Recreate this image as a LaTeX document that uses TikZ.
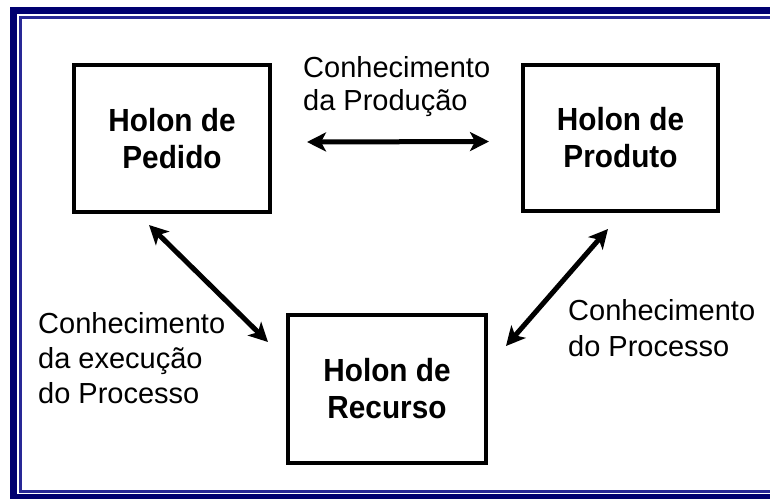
\documentclass[tikz,border=0pt]{standalone}
\usepackage{fontspec}
\setmainfont{Liberation Sans}
\newfontfamily\holonfont{Liberation Sans}[FakeStretch=0.93]
\usetikzlibrary{arrows.meta}
\definecolor{navyframe}{RGB}{0,0,112}
\definecolor{navythin}{RGB}{40,40,150}
\begin{document}
\begin{tikzpicture}[x=1pt,y=-1pt,
  holon/.style={draw=black, line width=4pt, inner sep=0pt, align=center,
    font=\holonfont\bfseries\fontsize{32}{37}\selectfont},
  lbl/.style={inner sep=0pt, anchor=north west, align=left},
  biarrow/.style={line width=5pt,
    {Stealth[length=19pt,width=19pt,inset=5pt]}-{Stealth[length=19pt,width=19pt,inset=5pt]}}]
\useasboundingbox (0,0) rectangle (770,498);
\clip (0,0) rectangle (770,498);
% frame
\draw[navyframe, line width=7pt] (13.5,10) rectangle (790,497.5);
\draw[navythin, line width=3pt] (20.5,17.5) rectangle (780,491.5);
% boxes
\node[holon, minimum width=196pt, minimum height=147pt] (pedido) at (172,138.5) {Holon de\\Pedido};
\node[holon, minimum width=195pt, minimum height=146pt] (produto) at (620.5,138) {Holon de\\Produto};
\node[holon, minimum width=198pt, minimum height=148pt] (recurso) at (387,389) {Holon de\\Recurso};
% labels
\node[lbl, font=\fontsize{29}{33}\selectfont] (lprod) at (303,56) {Conhecimento\\da Produção};
\node[lbl, font=\fontsize{29}{35}\selectfont] (lexec) at (38,312) {Conhecimento\\da execução\\do Processo};
\node[lbl, font=\fontsize{29}{36.5}\selectfont] (lproc) at (568,299) {Conhecimento\\do Processo};
% connectors
\draw[biarrow] ([xshift=35pt,yshift=-3.5pt]pedido.east) -- ([xshift=-32pt,yshift=-3.5pt]produto.west);
\draw[biarrow] ([xshift=-23pt,yshift=-11pt]pedido.south) -- ([xshift=-18pt,yshift=-29pt]recurso.north west);
\draw[biarrow] ([xshift=-12.5pt,yshift=-16pt]produto.south) -- ([xshift=18pt,yshift=-33pt]recurso.north east);
\end{tikzpicture}
\end{document}
